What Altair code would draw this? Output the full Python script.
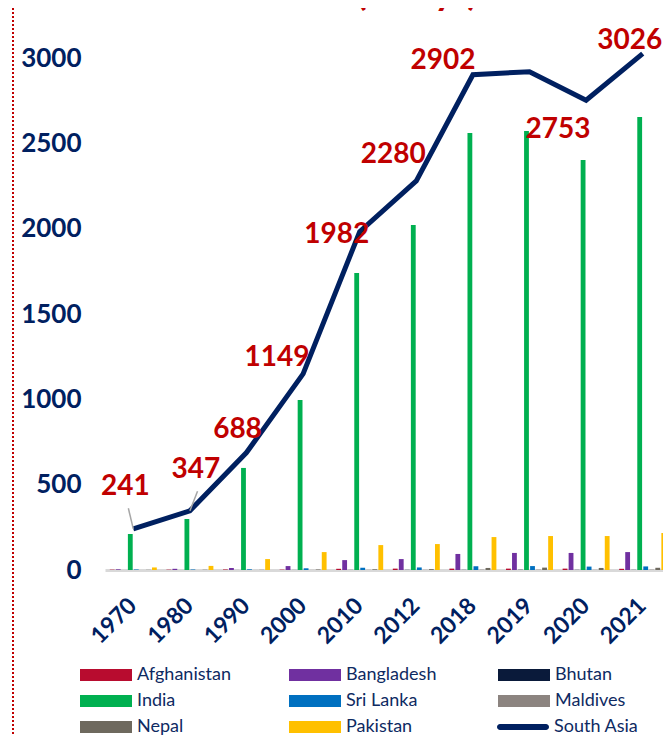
import altair as alt
import pandas as pd

years = ["1970", "1980", "1990", "2000", "2010", "2012", "2018", "2019", "2020", "2021"]
countries = ["Afghanistan", "Bangladesh", "Bhutan", "India", "Sri Lanka", "Maldives", "Nepal", "Pakistan"]
colors = ["#B80C2F", "#7030A0", "#0A1A3A", "#00B050", "#0070C0", "#8C8480", "#6E695E", "#FFC000"]

afghanistan = [2, 2, 3, 2, 7, 8, 8, 8, 8, 7]
bangladesh = [4, 7, 11, 23, 58, 64, 94, 100, 100, 105]
bhutan = [0.1, 0.1, 0.2, 0.4, 0.6, 1, 1, 1.5, 1, 1]
india = [211, 299, 598, 996, 1740, 2021, 2560, 2572, 2402, 2654]
sri_lanka = [3, 3, 4, 10, 13, 15, 22, 23, 20, 21]
maldives = [0.1, 0.1, 0.2, 0.5, 1, 1, 2, 2, 1, 2]
nepal = [1, 1, 1, 3, 4, 5, 12, 14, 12, 13]
pakistan = [15, 24, 64, 105, 146, 152, 193, 199, 199, 217]
south_asia = [241, 347, 688, 1149, 1982, 2280, 2902, 2920, 2753, 3026]
labeled = [True, True, True, True, True, True, True, False, True, True]

series = [afghanistan, bangladesh, bhutan, india, sri_lanka, maldives, nepal, pakistan]

# label offsets (style), in pixels, per year
label_offsets = {
    "1970": (-8, -42), "1980": (6, -41), "1990": (-9, -23), "2000": (-26, -16),
    "2010": (-23, 3), "2012": (-23, -26), "2018": (-30, -14), "2020": (-28, 30),
    "2021": (-13, -13),
}
leader_shapes = {"1970": "M0,0L-0.24,-1", "1980": "M0,0L0.37,-0.95"}

NAVY = "#002060"
RED = "#C00000"
FONT = "Lato"
LEG_TXT = "#0E2A62"

bar_df = pd.DataFrame(
    [{"year": y, "country": c, "value": s[i]} for c, s in zip(countries, series) for i, y in enumerate(years)]
)
line_df = pd.DataFrame({"year": years, "value": south_asia, "series": "South Asia", "labeled": labeled})

x_scale = alt.Scale(domain=years, paddingInner=0.17, paddingOuter=0.085)
y_scale = alt.Scale(domain=[0, 3252], nice=False)

x_enc = alt.X("year:O", scale=x_scale, sort=years,
              axis=alt.Axis(title=None, labelAngle=-45, labelFont=FONT, labelFontSize=23,
                            labelFontWeight="bold", labelColor=NAVY, labelPadding=24, labelOffset=-8,
                            ticks=False, domainColor="#D9D9D9", domainWidth=3, grid=False))
y_enc = alt.Y("value:Q", scale=y_scale,
              axis=alt.Axis(title=None, values=[0, 500, 1000, 1500, 2000, 2500, 3000], format="d",
                            labelFont=FONT, labelFontSize=26, labelFontWeight="bold",
                            labelColor=NAVY, labelPadding=24, ticks=False, domain=False, grid=False))

bars = alt.Chart(bar_df).mark_bar().encode(
    x=x_enc,
    xOffset=alt.XOffset("country:N", sort=countries, scale=alt.Scale(domain=countries, paddingInner=0.2)),
    y=y_enc,
    color=alt.Color("country:N", sort=countries, scale=alt.Scale(domain=countries, range=colors),
                    legend=alt.Legend(title=None, orient="none", legendX=-9, legendY=650,
                                      direction="horizontal",
                                      columns=3, gridAlign="all", columnPadding=58, rowPadding=7,
                                      symbolType="M-2.6,-0.6H2.6V0.6H-2.6Z", symbolSize=400,
                                      symbolStrokeWidth=0, labelOffset=21,
                                      labelFont=FONT, labelFontSize=18, labelColor=LEG_TXT)),
)

line = alt.Chart(line_df).mark_line(strokeWidth=5).encode(
    x=alt.X("year:O", scale=x_scale, sort=years),
    y=alt.Y("value:Q", scale=y_scale),
    color=alt.Color("series:N", scale=alt.Scale(domain=["South Asia"], range=[NAVY]),
                    legend=alt.Legend(title=None, orient="none", legendX=408, legendY=702,
                                      symbolType="M-2.3,-0.3H2.3A0.3,0.3 0 0 1 2.3,0.3H-2.3A0.3,0.3 0 0 1 -2.3,-0.3Z",
                                      symbolSize=400, symbolStrokeWidth=0, symbolFillColor=NAVY,
                                      labelOffset=21, labelFont=FONT, labelFontSize=18,
                                      labelColor=LEG_TXT)),
)

layers = [bars, line]

for y, (dx, dy) in label_offsets.items():
    layers.append(
        alt.Chart(line_df).transform_filter(alt.datum.year == y).mark_text(
            dx=dx, dy=dy, font=FONT, fontSize=28, fontWeight="bold", color=RED
        ).encode(x=alt.X("year:O", scale=x_scale, sort=years), y=alt.Y("value:Q", scale=y_scale),
                 text=alt.Text("value:Q"))
    )

for y, shp in leader_shapes.items():
    layers.append(
        alt.Chart(line_df).transform_filter(alt.datum.year == y).mark_point(
            shape=shp, size=1700, filled=False, stroke="#A6A6A6", strokeWidth=1.5, opacity=1
        ).encode(x=alt.X("year:O", scale=x_scale, sort=years), y=alt.Y("value:Q", scale=y_scale))
    )

layers.append(
    alt.Chart(line_df).mark_rule(color=RED, strokeWidth=2, strokeDash=[2, 2]).encode(
        x=alt.value(-92), y=alt.value(-15), y2=alt.value(726)
    )
)

title_txt = alt.Chart(pd.DataFrame({"t": ["(Mt/yr)"]})).mark_text(
    font=FONT, fontSize=38, fontWeight="bold", color=RED, align="center", baseline="alphabetic"
).encode(x=alt.value(312), y=alt.value(-10), text="t:N")
layers.append(title_txt)

chart = alt.layer(*layers).resolve_scale(color="independent").properties(
    width=566, height=555,
    padding={"left": 97, "top": 7, "right": -8, "bottom": 165},
    autosize=alt.AutoSizeParams(type="none"),
).configure_view(stroke=None)

chart.save("out.html", embed_options={"renderer": "svg", "actions": False})
